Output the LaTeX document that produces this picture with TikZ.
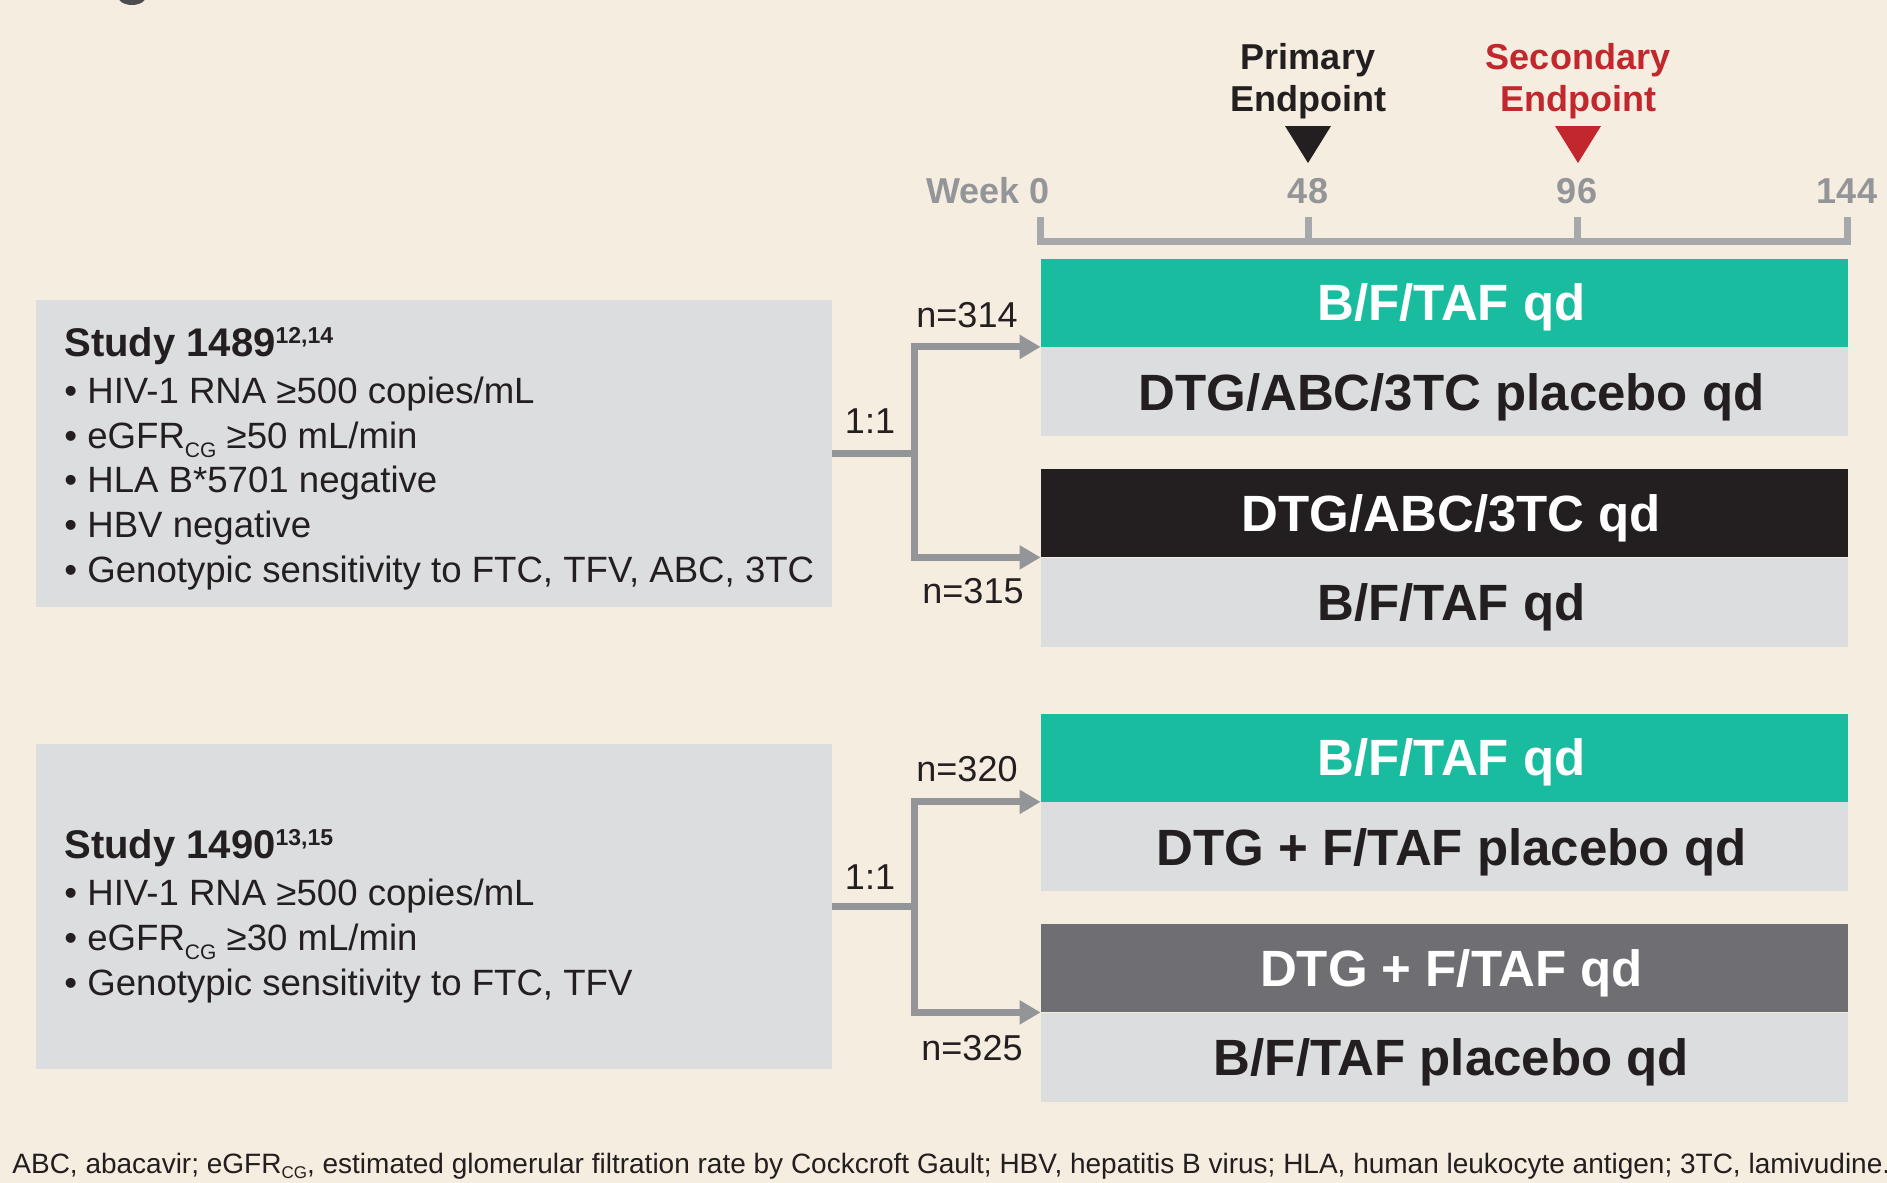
\documentclass[tikz,border=0pt]{standalone}
\usepackage{fontspec}
\setmainfont{Liberation Sans}
\usetikzlibrary{arrows.meta, positioning}
\definecolor{bgbeige}{HTML}{F5EDE0}
\definecolor{boxgrey}{HTML}{DCDDDF}
\definecolor{armteal}{HTML}{1ABC9F}
\definecolor{armblack}{HTML}{231F20}
\definecolor{armdark}{HTML}{6E6E73}
\definecolor{linegrey}{HTML}{939598}
\definecolor{tickgrey}{HTML}{A6A8AB}
\definecolor{endred}{HTML}{C1272D}
\definecolor{textdark}{HTML}{231F20}
\definecolor{glyphgrey}{HTML}{4D4D4F}
\newcommand{\cgsub}[2]{\raisebox{#2}{\fontsize{#1}{#1}\selectfont CG}}
\newcommand{\studyhead}[2]{{\fontsize{20}{20}\selectfont\bfseries Study #1}\raisebox{6.5pt}{\fontsize{11.5}{11.5}\selectfont\bfseries #2}}
\tikzset{
  armfont/.style={font=\fontsize{25.5}{30}\selectfont\bfseries, text height=18.3pt, text depth=0pt,
    execute at begin node=\hspace*{7pt}},
  armtop/.style={rectangle, fill=#1, text=white, minimum width=403.5pt, minimum height=44pt, inner sep=0pt, armfont},
  armbot/.style={rectangle, fill=boxgrey, text=textdark, minimum width=403.5pt, minimum height=44.5pt, inner sep=0pt, armfont, below=0pt of #1},
  studybox/.style={rectangle, fill=boxgrey, minimum width=398pt, inner sep=0pt},
  studytext/.style={anchor=base west, align=left, text=textdark, font=\fontsize{18.3}{22.3}\selectfont, inner sep=0pt},
  splitarrow/.style={draw=linegrey, line width=3.5pt, -{Triangle[length=10.5pt, width=11.5pt]}},
  splitlabel/.style={anchor=base, text=textdark, font=\fontsize{18}{18}\selectfont, inner sep=0pt},
  timeline/.style={draw=tickgrey, line width=3.5pt},
  weeklabel/.style={anchor=base, text=linegrey, font=\fontsize{18}{18}\selectfont\bfseries, inner sep=0pt},
  endlabel/.style={anchor=base, align=center, font=\fontsize{18}{21}\selectfont\bfseries, inner sep=0pt}
}
\begin{document}
\begin{tikzpicture}[x=0.5pt, y=-0.5pt]
\fill[bgbeige] (0,0) rectangle (1887,1183);
\useasboundingbox (0,0) rectangle (1887,1183);
\fill[glyphgrey] (132,-5) ellipse [x radius=7.5pt, y radius=5pt];

\node[endlabel, text=textdark] (prim) at (1308,112) {Primary\\Endpoint};
\node[endlabel, text=endred] (sec) at (1578,112) {Secondary\\Endpoint};
\fill[armblack] (1285,126) -- (1331,126) -- (1308,163) -- cycle;
\fill[endred] (1555,126) -- (1601,126) -- (1578,163) -- cycle;

\node[weeklabel, anchor=base east] (wk0) at (1050,203) {Week 0};
\foreach \x/\w in {1308/48, 1577/96, 1847/144}
  \node[weeklabel] (wk\w) at (\x,203) {\w};
\draw[timeline] (1040,217) -- (1040,241) -- (1847,241) -- (1847,217);
\foreach \x in {1308,1577}
  \draw[timeline] (\x,241) -- (\x,217);

\node[armtop=armteal] (A1) at (1444.5,302.5) {B/F/TAF qd};
\node[armbot=A1] (A1p) {DTG/ABC/3TC placebo qd};
\node[armtop=armblack] (A2) at (1444.5,513) {DTG/ABC/3TC qd};
\node[armbot=A2] (A2p) {B/F/TAF qd};
\node[armtop=armteal] (A3) at (1444.5,757.5) {B/F/TAF qd};
\node[armbot=A3] (A3p) {DTG + F/TAF placebo qd};
\node[armtop=armdark] (A4) at (1444.5,968) {DTG + F/TAF qd};
\node[armbot=A4] (A4p) {B/F/TAF placebo qd};

\node[studybox, minimum height=153.5pt] (S1489) at (434,453.5) {};
\node[studytext] (T1489) at (64,582) {\studyhead{1489}{12,14}\\[1.3pt]
  • HIV-1 RNA ≥500 copies/mL\\
  • eGFR\cgsub{10.5}{-4.5pt} ≥50 mL/min\\
  • HLA B*5701 negative\\
  • HBV negative\\
  • Genotypic sensitivity to FTC, TFV, ABC, 3TC};
\node[studybox, minimum height=162.5pt] (S1490) at (434,906.5) {};
\node[studytext] (T1490) at (64,995) {\studyhead{1490}{13,15}\\[1.3pt]
  • HIV-1 RNA ≥500 copies/mL\\
  • eGFR\cgsub{10.5}{-4.5pt} ≥30 mL/min\\
  • Genotypic sensitivity to FTC, TFV};

\coordinate (F1) at ([xshift=41pt]S1489.east);
\coordinate (F2) at ([xshift=41pt]S1490.east);
\draw[splitarrow] (S1489.east) -- (F1) |- (A1.south west);
\draw[splitarrow] (F1) |- (A2.south west);
\draw[splitarrow] (S1490.east) -- (F2) |- (A3.south west);
\draw[splitarrow] (F2) |- (A4.south west);

\node[splitlabel] (r1) at (870,433) {1:1};
\node[splitlabel] (n314) at (967,327) {n=314};
\node[splitlabel] (n315) at (973,603) {n=315};
\node[splitlabel] (r2) at (870,889) {1:1};
\node[splitlabel] (n320) at (967,781) {n=320};
\node[splitlabel] (n325) at (972,1060) {n=325};

\node[anchor=base west, inner sep=0pt, text=textdark, font=\fontsize{14}{16}\selectfont] (notes) at (12,1173)
  {ABC, abacavir; eGFR\cgsub{8.5}{-2.8pt}, estimated glomerular filtration rate by Cockcroft Gault; HBV, hepatitis B virus; HLA, human leukocyte antigen; 3TC, lamivudine.};
\end{tikzpicture}
\end{document}
